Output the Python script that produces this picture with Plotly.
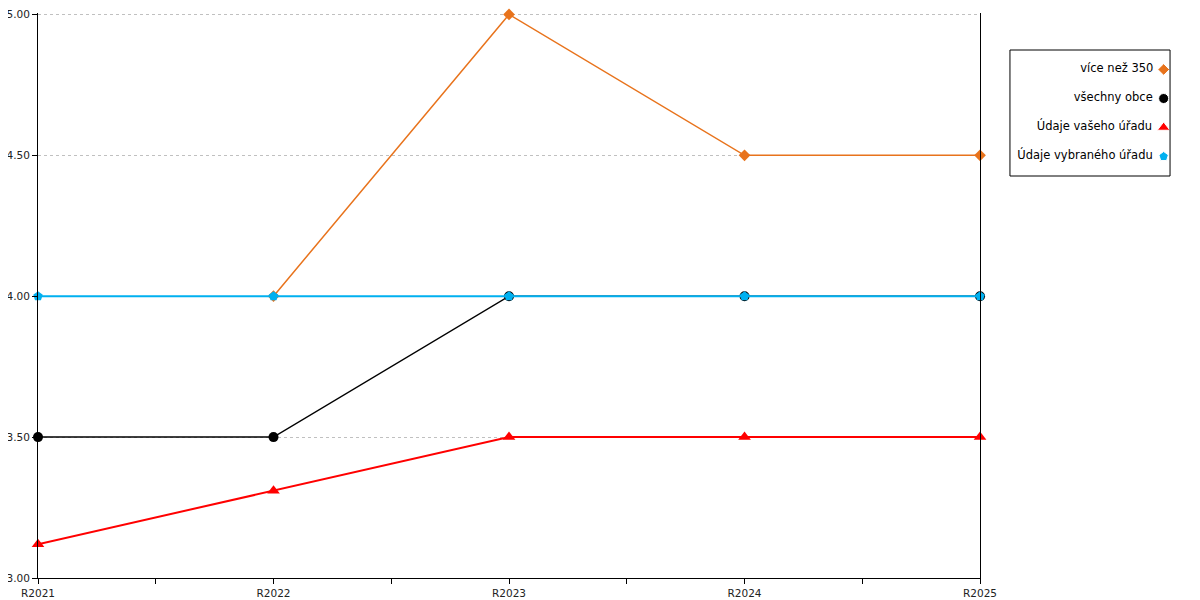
import plotly.graph_objects as go

years = ["R2021", "R2022", "R2023", "R2024", "R2025"]
nad_350 = [None, 4.0, 5.0, 4.5, 4.5]
vsechny_obce = [3.5, 3.5, 4.0, 4.0, 4.0]
vas_urad = [3.12, 3.31, 3.5, 3.5, 3.5]
vybrany_urad = [4.0, 4.0, 4.0, 4.0, 4.0]

names = ["více než 350", "všechny obce", "Údaje vašeho úřadu", "Údaje vybraného úřadu"]
series = [nad_350, vsechny_obce, vas_urad, vybrany_urad]
colors = ["#E8731C", "#000000", "#FF0000", "#00B0F0"]
symbols = ["diamond", "circle", "triangle-up", "pentagon"]
widths = [1.5, 1.5, 2, 2]
sizes = [9, 10, 11, 10]

xs = list(range(len(years)))
font = "DejaVu Sans"

fig = go.Figure()
for name, vals, c, s, w, sz in zip(names, series, colors, symbols, widths, sizes):
    fig.add_trace(go.Scatter(x=xs, y=vals, name=name, mode="lines+markers",
                             line=dict(color=c, width=w),
                             marker=dict(symbol=s, size=sz, color=c),
                             cliponaxis=False, showlegend=False))

# legend drawn by hand so the symbol sits right of the text
fig.add_trace(go.Scatter(x=[0.96] * len(names), y=list(range(len(names))),
                         mode="markers+text", text=[n + " " for n in names],
                         textposition="middle left",
                         textfont=dict(family=font, size=11.5, color="#000"),
                         marker=dict(symbol=symbols, color=colors, size=sizes, opacity=1),
                         xaxis="x2", yaxis="y2", showlegend=False, hoverinfo="skip"))

fig.add_shape(type="rect", xref="paper", yref="paper", x0=0.8379, x1=0.9759,
              y0=0.7115, y1=0.9345, line=dict(color="black", width=1))

fig.update_layout(
    width=1200, height=600,
    margin=dict(l=30, r=10, t=5, b=30),
    plot_bgcolor="white", paper_bgcolor="white",
    font=dict(family=font, size=10.5, color="#222"),
    xaxis=dict(domain=[0, 0.8121], range=[0, len(years) - 1], automargin=False,
               tickvals=xs, ticktext=years, ticks="outside", ticklen=5,
               tickcolor="black", showline=True, linecolor="black",
               showgrid=False, zeroline=False,
               minor=dict(dtick=0.5, tick0=0, ticks="outside", ticklen=5, tickcolor="black")),
    yaxis=dict(range=[3, 5.005], dtick=0.5, tick0=3, tickformat=".2f", automargin=False,
               ticks="outside", ticklen=5, tickcolor="black", ticklabeloverflow="allow",
               showline=True, linecolor="black", mirror=True,
               showgrid=True, gridcolor="#c0c0c0", griddash="dot", zeroline=False),
    xaxis2=dict(domain=[0.8379, 0.9759], range=[0, 1], visible=False, fixedrange=True),
    yaxis2=dict(domain=[0.7115, 0.9345], range=[3.672, -0.672], visible=False, fixedrange=True),
)

fig.write_html("out.html")
